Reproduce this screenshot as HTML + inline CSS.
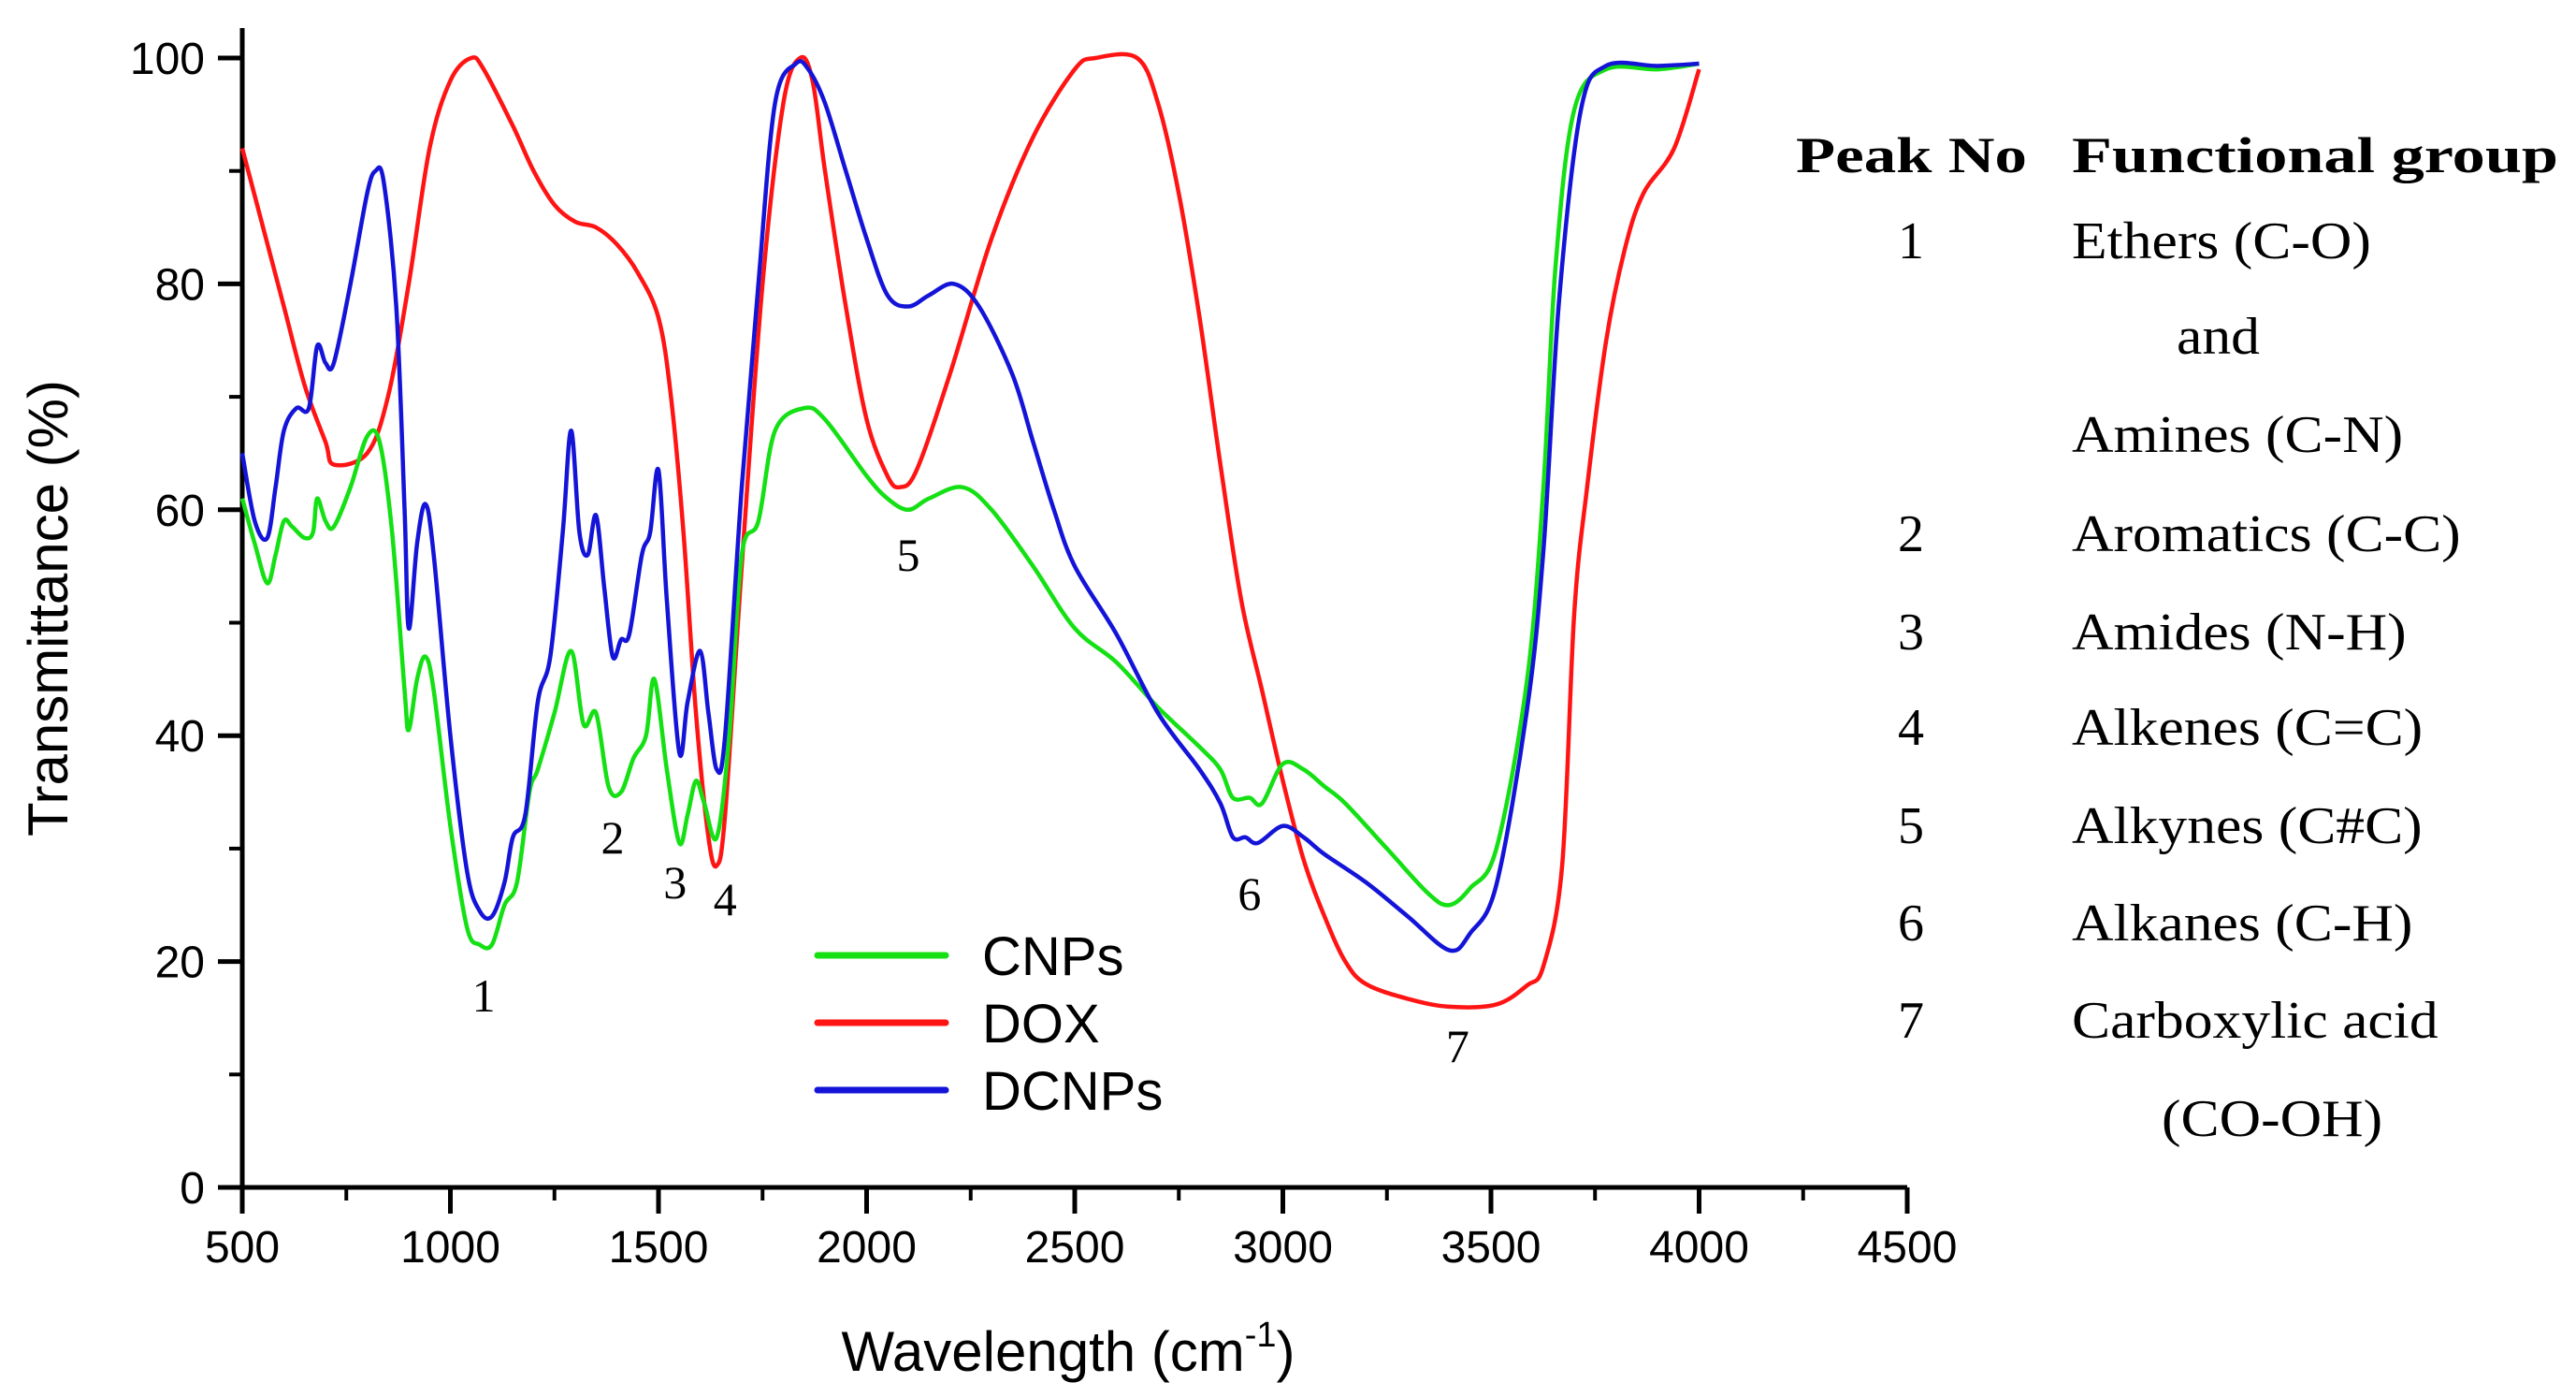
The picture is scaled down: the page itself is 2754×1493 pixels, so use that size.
<!DOCTYPE html>
<html><head><meta charset="utf-8"><style>
html,body{margin:0;padding:0;background:#fff;}
svg{display:block;}
</style></head><body>
<svg id="chart" width="2754" height="1493" viewBox="0 0 2754 1493" xmlns="http://www.w3.org/2000/svg">
<g id="axes"></g>
<g id="series"></g>
<g id="legend"></g>
<g id="peaks"></g>
<g id="table"></g>
</svg>
<script>
const xTicks = [500,1000,1500,2000,2500,3000,3500,4000,4500];
const yTicks = [0,20,40,60,80,100];
const seriesNames = ["CNPs","DOX","DCNPs"];
const seriesColors = ["#14e014","#ff1414","#1414d8"];
const doxX = [500,550,600,650,700,720,800,850,900,950,1000,1050,1080,1150,1200,1250,1300,1350,1400,1450,1500,1530,1560,1590,1620,1640,1660,1700,1750,1800,1840,1870,1900,1950,2000,2050,2080,2120,2200,2300,2400,2500,2550,2650,2700,2750,2800,2850,2900,2950,3000,3050,3100,3150,3200,3300,3400,3513,3587,3626,3671,3700,3731,3776,3821,3866,3940,4000];
const doxY = [92,85,78,71,66,64,65,70,80,92,98,100,99,94,90,87,85.5,85,83.5,81,77,70,58,42,31,28.5,33,55,80,96,100,98,90,78,68,63,62,63.5,72,84,93,99,100,100,96,88,77,64,52,44,36,29,24,20,18,16.7,16,16.2,17.9,19.6,28.5,50.8,62,74.8,83,88,92,99];
const cnpX = [500,530,560,580,600,620,650,670,680,700,720,760,800,830,860,890,900,920,940,960,1000,1040,1070,1100,1130,1160,1190,1210,1250,1290,1320,1350,1380,1410,1440,1470,1490,1520,1550,1570,1590,1610,1640,1670,1700,1740,1780,1850,1900,2000,2050,2100,2150,2230,2300,2400,2500,2600,2700,2800,2850,2880,2920,2950,3000,3050,3100,3150,3250,3350,3400,3450,3513,3587,3626,3655,3700,3776,3900,4000];
const cnpY = [61,57,53.5,56,59,58.5,57.5,58,61,59,58.5,62,66.5,66,58,44,40.5,45,47,44,32,23,21.5,21.5,25,27,35,37,42,47.5,41,42,35.5,35,38,40,45,37,30.5,33,36,34,31,40,56,59,67,69,68,63,61,60,61,62,60,55,49.5,46.5,42.5,39,37,34.5,34.5,34,37.5,37,35.5,34,30,26,25,26.5,30,45,62,81.5,95.4,99,99,99.5];
const dcnpX = [500,530,560,580,600,630,660,680,700,720,760,800,820,840,870,890,900,920,940,960,1000,1040,1070,1100,1130,1150,1180,1210,1240,1270,1290,1310,1330,1350,1370,1390,1410,1430,1460,1480,1500,1520,1550,1570,1600,1620,1640,1660,1700,1740,1780,1830,1860,1900,1950,2000,2050,2100,2150,2210,2270,2350,2400,2450,2500,2600,2700,2800,2850,2880,2910,2940,3000,3050,3100,3200,3300,3400,3450,3513,3587,3626,3664,3716,3776,3900,4000];
const dcnpY = [65,59,57.5,62,67,69,69,74.5,73,73,80,88,90,89,78,60,49.5,57,60.5,56,40,28,24.5,24,27,31,33,43,47,58,67,58,56,59.5,53,47,48.5,49,56,58,63.5,52,38.5,43,47.5,42,37,40,62,80,96,99.5,99,96,90,84,79,78,79,80,78,72,66,60,55,49,42,37,34,31,31,30.5,32,31,29.5,27,24,21,22.5,26.8,42.4,56.4,78.7,95.4,99.3,99.3,99.5];
const peakLabels = ["1","2","3","4","5","6","7"];
const peakX = [1080,1390,1540,1660,2100,2920,3420];
const peakY = [17,31,27,25.5,56,26,12.5];
const tableNums = ["1","","","2","3","4","5","6","7",""];
const tableText = ["Ethers (C-O)","and","Amines (C-N)","Aromatics (C-C)","Amides (N-H)","Alkenes (C=C)","Alkynes (C#C)","Alkanes (C-H)","Carboxylic acid","(CO-OH)"];

const NS="http://www.w3.org/2000/svg";
const X0=259,X1=2039,Y0=1269,Y1=62;
const sx=v=>X0+(v-500)*(X1-X0)/4000;
const sy=v=>Y0-v*(Y0-Y1)/100;
function mk(tag,attrs,parent,text){const e=document.createElementNS(NS,tag);for(const k in attrs)e.setAttribute(k,attrs[k]);if(text!==undefined)e.textContent=text;parent.appendChild(e);return e;}
const axes=document.getElementById('axes');
let e;
e=mk('line',{x1:X0,y1:30,x2:X0,y2:Y0+28,stroke:'#000','stroke-width':5},axes);


e=mk('line',{x1:X0-26,y1:Y0,x2:X1,y2:Y0,stroke:'#000','stroke-width':5},axes);


xTicks.forEach((t,i)=>{
  e=mk('line',{x1:sx(t),y1:Y0,x2:sx(t),y2:Y0+28,stroke:'#000','stroke-width':5},axes);
  
  
  if(i<xTicks.length-1){
    e=mk('line',{x1:sx(t+250),y1:Y0,x2:sx(t+250),y2:Y0+14,stroke:'#000','stroke-width':4},axes);
    
    
  }
  e=mk('text',{x:sx(t),y:Y0+80,'text-anchor':'middle','font-family':'Liberation Sans, sans-serif','font-size':48},axes,String(t));
  
  
});
yTicks.forEach((t,i)=>{
  e=mk('line',{x1:X0-26,y1:sy(t),x2:X0,y2:sy(t),stroke:'#000','stroke-width':5},axes);
  
  
  if(i<yTicks.length-1){
    e=mk('line',{x1:X0-14,y1:sy(t+10),x2:X0,y2:sy(t+10),stroke:'#000','stroke-width':4},axes);
    
    
  }
  e=mk('text',{x:X0-40,y:sy(t)+17,'text-anchor':'end','font-family':'Liberation Sans, sans-serif','font-size':48},axes,String(t));
  
  
});
e=mk('text',{x:0,y:0,transform:'translate(72,650) rotate(-90)','text-anchor':'middle','font-family':'Liberation Sans, sans-serif','font-size':60},axes,'Transmittance (%)');


e=mk('text',{x:1142,y:1465,'text-anchor':'middle','font-family':'Liberation Sans, sans-serif','font-size':60},axes);


e.innerHTML='Wavelength (cm<tspan dy="-26" font-size="38">-1</tspan><tspan dy="26">)</tspan>';

const sg=document.getElementById('series');
const sets=[[cnpX,cnpY],[doxX,doxY],[dcnpX,dcnpY]];
const order=[1,0,2];
order.forEach(i=>{
  const [xs,ys]=sets[i];
  const pts=xs.map((x,j)=>[sx(x),sy(ys[j])]);
  let d='M'+pts[0][0]+','+pts[0][1];
  for(let j=0;j<pts.length-1;j++){
    const p0=pts[Math.max(0,j-1)],p1=pts[j],p2=pts[j+1],p3=pts[Math.min(pts.length-1,j+2)];
    const c1x=p1[0]+(p2[0]-p0[0])/6,c1y=p1[1]+(p2[1]-p0[1])/6;
    const c2x=p2[0]-(p3[0]-p1[0])/6,c2y=p2[1]-(p3[1]-p1[1])/6;
    d+=` C${c1x},${c1y} ${c2x},${c2y} ${p2[0]},${p2[1]}`;
  }
  e=mk('path',{d:d,fill:'none',stroke:seriesColors[i],'stroke-width':4.5,'stroke-linejoin':'round'},sg);
  
  
});

const lg=document.getElementById('legend');
seriesNames.forEach((n,i)=>{
  const y=1021+i*72;
  e=mk('line',{x1:874,y1:y,x2:1011,y2:y,stroke:seriesColors[i],'stroke-width':7,'stroke-linecap':'round'},lg);
  
  
  e=mk('text',{x:1050,y:y+21,'font-family':'Liberation Sans, sans-serif','font-size':58},lg,n);
  
  
});

const pg=document.getElementById('peaks');
peakLabels.forEach((l,i)=>{
  e=mk('text',{x:sx(peakX[i]),y:sy(peakY[i])+17,'text-anchor':'middle','font-family':'Liberation Serif, serif','font-size':50},pg,l);
  
  
});

const tg=document.getElementById('table');
e=mk('text',{x:1920,y:184,'font-family':'Liberation Serif, serif','font-weight':'bold','font-size':54,textLength:247,lengthAdjust:'spacingAndGlyphs'},tg,'Peak No');


e=mk('text',{x:2215,y:184,'font-family':'Liberation Serif, serif','font-weight':'bold','font-size':54,textLength:520,lengthAdjust:'spacingAndGlyphs'},tg,'Functional group');


const rowY=[258,360,465,571,676,778,883,987,1091,1196];
const rowX=[2215,2327,2215,2215,2215,2215,2215,2215,2215,2311];
tableText.forEach((t,i)=>{
  if(tableNums[i]){
    e=mk('text',{x:2043,y:rowY[i]+18,'text-anchor':'middle','font-family':'Liberation Serif, serif','font-size':56},tg,tableNums[i]);
    
    
  }
  e=mk('text',{x:rowX[i],y:rowY[i]+18,'font-family':'Liberation Serif, serif','font-size':56},tg,t);
  
  
  const w=e.getComputedTextLength();
  if(w>0){e.setAttribute('textLength',(w*1.1).toFixed(1));e.setAttribute('lengthAdjust','spacingAndGlyphs');}
});
</script>
</body></html>
